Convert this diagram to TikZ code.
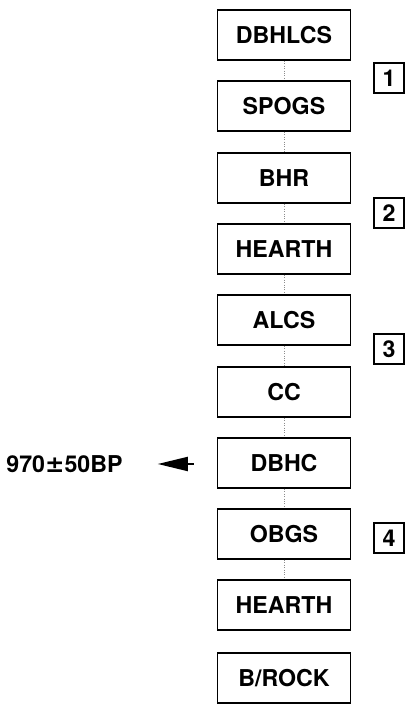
\documentclass[tikz,border=0pt]{standalone}
\usepackage{fontspec}
\setmainfont{TeX Gyre Heros}
\usepackage{tikz}
\usetikzlibrary{positioning, arrows.meta}

\begin{document}
\begin{tikzpicture}[>={Triangle[length=0.6cm, width=0.28cm]},
  every node/.style={font=\fontsize{13.2}{15}\selectfont\bfseries},
  layer/.style={draw, line width=0.8pt, minimum width=2.66cm, minimum height=1cm, inner sep=0pt},
  unit/.style={draw, line width=0.8pt, minimum size=0.6cm, inner sep=0pt},
  link/.style={draw=black!45, line width=0.4pt, densely dotted}
]
  \useasboundingbox (0,0) rectangle (8.14,14.08);

  % Main column of layers, top to bottom
  \node[layer] (dbhlcs) at (5.68,13.38) {DBHLCS};
  \node[layer] (spogs) at (5.68,11.96) {SPOGS};
  \node[layer] (bhr) at (5.68,10.52) {BHR};
  \node[layer] (hearthA) at (5.68,9.10) {HEARTH};
  \node[layer] (alcs) at (5.68,7.68) {ALCS};
  \node[layer] (cc) at (5.68,6.24) {CC};
  \node[layer] (dbhc) at (5.68,4.82) {DBHC};
  \node[layer] (obgs) at (5.68,3.40) {OBGS};
  \node[layer] (hearthB) at (5.68,1.98) {HEARTH};
  \node[layer] (brock) at (5.68,0.52) {B/ROCK};

  % Unit numbers on the right
  \node[unit] (u1) at (7.78,12.52) {1};
  \node[unit] (u2) at (7.78,9.82) {2};
  \node[unit] (u3) at (7.78,7.10) {3};
  \node[unit] (u4) at (7.78,3.32) {4};

  % Faint links between layers
  \draw[link] (dbhlcs) -- (spogs);
  \draw[link] (spogs) -- (bhr);
  \draw[link] (bhr) -- (hearthA);
  \draw[link] (hearthA) -- (alcs);
  \draw[link] (alcs) -- (cc);
  \draw[link] (cc) -- (dbhc);
  \draw[link] (dbhc) -- (obgs);
  \draw[link] (obgs) -- (hearthB);

  % Date on the left
  \node (age) at (1.29,4.80) {970{\fontspec{DejaVu Sans}\bfseries ±}50BP};
  \draw[->, line width=1.1pt, shorten <=0.46cm, shorten >=0.58cm] (dbhc.west |- age) -- (age.east);
\end{tikzpicture}
\end{document}
